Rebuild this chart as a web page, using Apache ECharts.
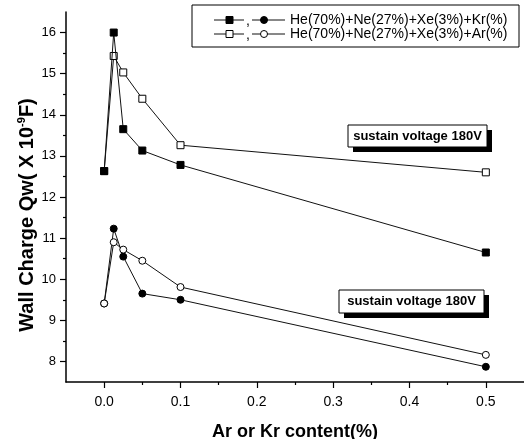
<!DOCTYPE html>
<html>
<head>
<meta charset="utf-8">
<style>
  html, body { margin: 0; padding: 0; background: #fff; }
  #chart { width: 524px; height: 439px; }
</style>
<script src="https://cdn.jsdelivr.net/npm/echarts@6/dist/echarts.min.js"></script>
</head>
<body>
<div id="chart"></div>
<script>
// ---- data ----
const xValues = [0, 0.0125, 0.025, 0.05, 0.1, 0.5];
const krSquares = [12.63, 16.0, 13.65, 13.13, 12.78, 10.65];   // filled squares (upper, Kr)
const arSquares = [12.63, 15.43, 15.03, 14.39, 13.26, 12.60];  // open squares (upper, Ar)
const krCircles = [9.41, 11.23, 10.55, 9.65, 9.50, 7.87];      // filled circles (lower, Kr)
const arCircles = [9.41, 10.90, 10.72, 10.45, 9.81, 8.16];     // open circles (lower, Ar)

const xTicks = [0, 0.1, 0.2, 0.3, 0.4, 0.5];
const xMinorTicks = [0.05, 0.15, 0.25, 0.35, 0.45];
const yTicks = [8, 9, 10, 11, 12, 13, 14, 15, 16];
const yMinorTicks = [8.5, 9.5, 10.5, 11.5, 12.5, 13.5, 14.5, 15.5];

const legendText1 = 'He(70%)+Ne(27%)+Xe(3%)+Kr(%)';
const legendText2 = 'He(70%)+Ne(27%)+Xe(3%)+Ar(%)';
const noteText = 'sustain voltage 180V';
const xName = 'Ar or Kr content(%)';

const FONT = '"Liberation Sans", Arial, Helvetica, sans-serif';

function pairs(ys) { return xValues.map((x, i) => [x, ys[i]]); }

const chart = echarts.init(document.getElementById('chart'), null, { renderer: 'canvas' });

const axisCommon = {
  type: 'value',
  splitLine: { show: false },
};

function mkSeries(name, ys, symbol, filled, z) {
  return {
    name, type: 'line', data: pairs(ys),
    xAxisIndex: 0, yAxisIndex: 0,
    symbol, symbolSize: 7, showSymbol: true,
    z,
    lineStyle: { color: '#111', width: 1 },
    itemStyle: { color: filled ? '#000' : '#fff', borderColor: '#000', borderWidth: 1, opacity: 1 },
    emphasis: { disabled: true },
    animation: false
  };
}

function note(x, y, w, h) {
  return [
    { type: 'rect', shape: { x: x + 5, y: y + 5, width: w, height: h }, style: { fill: '#000' }, z: 100 },
    { type: 'rect', shape: { x: x, y: y, width: w, height: h }, style: { fill: '#fff', stroke: '#000', lineWidth: 1 }, z: 101 },
    { type: 'text', x: x + w / 2, y: y + h / 2, z: 102,
      style: { text: noteText, font: 'bold 13px ' + FONT, fill: '#000', textAlign: 'center', textVerticalAlign: 'middle' } }
  ];
}

function legendRow(y, filled, text) {
  const fill = filled ? '#000' : '#fff';
  return [
    { type: 'line', shape: { x1: 214, y1: y, x2: 244, y2: y }, style: { stroke: '#111', lineWidth: 1 }, z: 101 },
    { type: 'rect', shape: { x: 226, y: y - 3.5, width: 7, height: 7 }, style: { fill, stroke: '#000', lineWidth: 1 }, z: 102 },
    { type: 'text', x: 246, y: y + 1, z: 102, style: { text: ',', font: '14px ' + FONT, fill: '#000', textAlign: 'left', textVerticalAlign: 'middle' } },
    { type: 'line', shape: { x1: 252, y1: y, x2: 285, y2: y }, style: { stroke: '#111', lineWidth: 1 }, z: 101 },
    { type: 'circle', shape: { cx: 264, cy: y, r: 3.5 }, style: { fill, stroke: '#000', lineWidth: 1 }, z: 102 },
    { type: 'text', x: 290, y: y, z: 102, style: { text, font: '14px ' + FONT, fill: '#000', textAlign: 'left', textVerticalAlign: 'middle' } }
  ];
}

const option = {
  backgroundColor: '#fff',
  animation: false,
  grid: { left: 66, right: 0, top: 12, bottom: 57, containLabel: false, outerBoundsMode: 'none' },
  xAxis: [
    Object.assign({}, axisCommon, {
      min: -0.05, max: 0.55, position: 'bottom',
      axisLine: { show: true, onZero: false, lineStyle: { color: '#000', width: 1.5 } },
      axisTick: { show: true, inside: false, length: 6, customValues: xTicks, lineStyle: { color: '#000', width: 1.2 } },
      axisLabel: { show: true, customValues: xTicks, margin: 13, formatter: v => v.toFixed(1),
        color: '#000', fontSize: 14, fontFamily: FONT }
    }),
    Object.assign({}, axisCommon, {
      min: -0.05, max: 0.55, position: 'bottom',
      axisLine: { show: false, onZero: false },
      axisTick: { show: true, inside: false, length: 3, customValues: xMinorTicks, lineStyle: { color: '#000', width: 1.2 } },
      axisLabel: { show: false }
    })
  ],
  yAxis: [
    Object.assign({}, axisCommon, {
      min: 7.5, max: 16.5, position: 'left',
      axisLine: { show: true, onZero: false, lineStyle: { color: '#000', width: 1.5 } },
      axisTick: { show: true, inside: false, length: 6, customValues: yTicks, lineStyle: { color: '#000', width: 1.2 } },
      axisLabel: { show: true, customValues: yTicks, margin: 10, color: '#000', fontSize: 13, fontFamily: FONT }
    }),
    Object.assign({}, axisCommon, {
      min: 7.5, max: 16.5, position: 'left',
      axisLine: { show: false, onZero: false },
      axisTick: { show: true, inside: false, length: 3, customValues: yMinorTicks, lineStyle: { color: '#000', width: 1.2 } },
      axisLabel: { show: false }
    })
  ],
  series: [
    mkSeries('Ar squares', arSquares, 'rect', false, 2),
    mkSeries('Kr squares', krSquares, 'rect', true, 3),
    mkSeries('Kr circles', krCircles, 'circle', true, 2),
    mkSeries('Ar circles', arCircles, 'circle', false, 3)
  ],
  graphic: [
    // y axis name
    { type: 'text', x: 27, y: 215, rotation: Math.PI / 2, z: 100,
      style: {
        text: '{a|Wall Charge Qw( X 10}{s|-9}{a|F)}',
        textAlign: 'center', textVerticalAlign: 'middle',
        rich: {
          a: { font: 'bold 20px ' + FONT, fill: '#000' },
          s: { font: 'bold 11px ' + FONT, fill: '#000', padding: [0, 0, 11, 0] }
        }
      } },
    // x axis name
    { type: 'text', x: 295, y: 432, z: 100,
      style: { text: xName, font: 'bold 18px ' + FONT, fill: '#000', textAlign: 'center', textVerticalAlign: 'middle' } },
    // legend box
    { type: 'rect', shape: { x: 192, y: 5, width: 327, height: 42 }, style: { fill: '#fff', stroke: '#000', lineWidth: 1 }, z: 100 },
    ...legendRow(20, true, legendText1),
    ...legendRow(34, false, legendText2),
    ...note(348, 125, 139, 22),
    ...note(339, 290, 145, 23)
  ]
};

chart.setOption(option);
</script>
</body>
</html>
